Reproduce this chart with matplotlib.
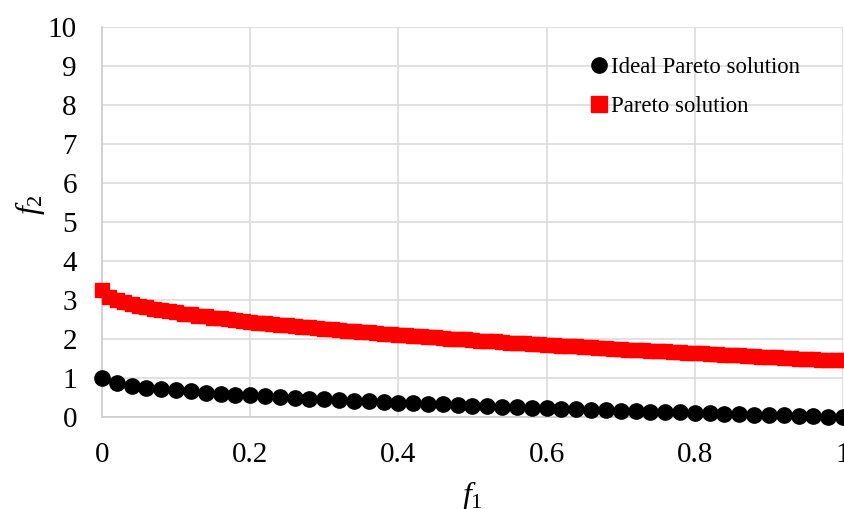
import numpy as np
import matplotlib
matplotlib.use("Agg")
import matplotlib.pyplot as plt

plt.rcParams['font.family'] = ['Liberation Serif', 'DejaVu Serif']
plt.rcParams['mathtext.fontset'] = 'custom'
plt.rcParams['mathtext.rm'] = 'Liberation Serif'
plt.rcParams['mathtext.it'] = 'Liberation Serif:italic'

# Ideal Pareto front (black circles)
ideal_f1 = np.linspace(0, 1, 51)
ideal_f2 = [1.000, 0.859, 0.800, 0.755, 0.717, 0.684, 0.654, 0.626, 0.600, 0.576,
            0.553, 0.531, 0.510, 0.490, 0.471, 0.452, 0.434, 0.417, 0.400, 0.384,
            0.368, 0.352, 0.337, 0.322, 0.307, 0.293, 0.279, 0.265, 0.252, 0.238,
            0.225, 0.213, 0.200, 0.188, 0.175, 0.163, 0.151, 0.140, 0.128, 0.117,
            0.106, 0.094, 0.083, 0.073, 0.062, 0.051, 0.041, 0.030, 0.020, 0.010,
            0.000]

# Obtained Pareto solution (red squares)
pareto_f1 = np.linspace(0, 1, 101)
pareto_f2 = [3.25, 3.07, 2.99, 2.94, 2.89, 2.85, 2.81, 2.77, 2.74, 2.71,
             2.68, 2.65, 2.63, 2.60, 2.58, 2.55, 2.53, 2.51, 2.49, 2.46,
             2.44, 2.42, 2.40, 2.39, 2.37, 2.35, 2.33, 2.31, 2.30, 2.28,
             2.26, 2.25, 2.23, 2.21, 2.20, 2.18, 2.17, 2.15, 2.14, 2.12,
             2.11, 2.10, 2.08, 2.07, 2.05, 2.04, 2.03, 2.01, 2.00, 1.99,
             1.98, 1.96, 1.95, 1.94, 1.93, 1.91, 1.90, 1.89, 1.88, 1.87,
             1.85, 1.84, 1.83, 1.82, 1.81, 1.80, 1.79, 1.77, 1.76, 1.75,
             1.74, 1.73, 1.72, 1.71, 1.70, 1.69, 1.68, 1.67, 1.66, 1.65,
             1.64, 1.63, 1.62, 1.61, 1.60, 1.59, 1.58, 1.57, 1.56, 1.55,
             1.54, 1.53, 1.52, 1.51, 1.50, 1.49, 1.48, 1.47, 1.47, 1.46,
             1.45]

x_ticks = [0, 0.2, 0.4, 0.6, 0.8, 1]
x_tick_labels = ['0', '0.2', '0.4', '0.6', '0.8', '1']
y_ticks = list(range(0, 11))

fig = plt.figure(figsize=(8.45, 5.09), dpi=100)
ax = fig.add_axes([102/845, 1 - 417/509, (843 - 102)/845, (417 - 27)/509])

ax.plot(pareto_f1, pareto_f2, linestyle='none', marker='s', markersize=10.5,
        color='#ff0000', label='Pareto solution', zorder=3, clip_on=False)
ax.plot(ideal_f1, ideal_f2, linestyle='none', marker='o', markersize=11,
        color='black', label='Ideal Pareto solution', zorder=4, clip_on=False)

ax.set_xlim(0, 1)
ax.set_ylim(0, 10)
ax.set_xticks(x_ticks)
ax.set_xticklabels(x_tick_labels)
ax.set_yticks(y_ticks)
ax.grid(True, color='#d9d9d9', linewidth=1.1, zorder=0)
ax.set_axisbelow(True)
for s in ['top', 'right']:
    ax.spines[s].set_visible(False)
for s in ['left', 'bottom']:
    ax.spines[s].set_color('#d0d0d0')
    ax.spines[s].set_linewidth(1.3)
ax.tick_params(axis='both', length=0, labelsize=21)
ax.tick_params(axis='y', pad=18)
ax.tick_params(axis='x', pad=18)

fig.text(30/845, 1 - 205/509, r'$f_2$', rotation=90, fontsize=23,
         ha='center', va='center')
fig.text(472/845, 1 - 496/509, r'$f_1$', fontsize=23, ha='center', va='center')

handles, labels = ax.get_legend_handles_labels()
leg = ax.legend(handles[::-1], labels[::-1], loc='upper left',
                bbox_to_anchor=(591/845, 1 - 57/509), bbox_transform=fig.transFigure,
                frameon=False, fontsize=16.4, handlelength=0.72, handletextpad=0.15,
                labelspacing=0.8, borderpad=0, borderaxespad=0)
for lh in leg.legend_handles:
    lh.set_markersize(11)
leg.set_zorder(5)

fig.savefig('out.png', dpi=100)
